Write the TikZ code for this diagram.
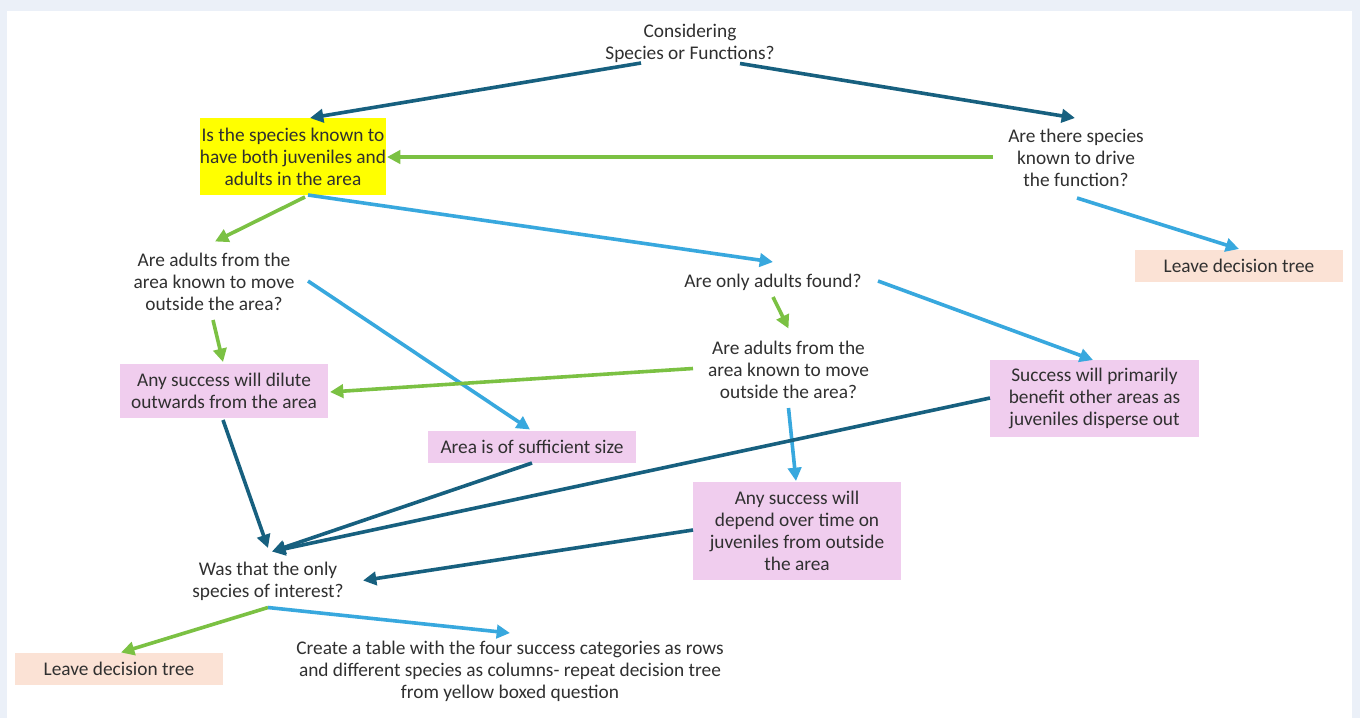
\documentclass[tikz,border=0pt]{standalone}
\usepackage{fontspec}
\setmainfont{Carlito}
\usetikzlibrary{calc,arrows.meta}
\definecolor{outerbg}{HTML}{EBF0F8}
\definecolor{txt}{HTML}{303030}
\definecolor{dkblue}{HTML}{17607F}
\definecolor{ltblue}{HTML}{38A8DE}
\definecolor{grn}{HTML}{7BC143}
\definecolor{yel}{HTML}{FFFF00}
\definecolor{pinkbox}{HTML}{F0CDEE}
\definecolor{peach}{HTML}{FBE2D5}
\tikzset{
  every node/.style={font=\fontsize{14.5}{16.5}\selectfont, text=txt, align=center, inner sep=0pt},
  q/.style={},
  boxy/.style={fill=yel},
  boxp/.style={fill=pinkbox},
  boxo/.style={fill=peach},
  conn/.style={line width=2.7pt, -{Triangle[length=10pt,width=10pt]}, shorten >=0pt},
  dk/.style={conn, draw=dkblue},
  lb/.style={conn, draw=ltblue},
  gr/.style={conn, draw=grn},
}
\begin{document}
\begin{tikzpicture}[x=0.75pt,y=-0.75pt]
\useasboundingbox (0,0) rectangle (1360,718);
\fill[outerbg] (0,0) rectangle (1360,718);
\fill[white] (7,11) rectangle (1352,718);

% nodes
\node[q] (cons) at (690,43.5) {Considering\\Species or Functions?};
\node[boxy, minimum width=135pt, minimum height=57.75pt] (yellow) at (293,156.5) {Is the species known to\\have both juveniles and\\adults in the area};
\node[q] (func) at (1076,158) {Are there species\\known to drive\\the function?};
\node[boxo, minimum width=156pt, minimum height=24pt] (leaveR) at (1239,266) {Leave decision tree};
\node[q] (adultsL) at (214,281.5) {Are adults from the\\area known to move\\outside the area?};
\node[q] (onlyAd) at (773,282.5) {Are only adults found?};
\node[q] (adultsM) at (788.5,369.5) {Are adults from the\\area known to move\\outside the area?};
\node[boxp, minimum width=156pt, minimum height=40pt] (dilute) at (224,391) {Any success will dilute\\outwards from the area};
\node[boxp, minimum width=156pt, minimum height=24pt] (suff) at (532,446.5) {Area is of sufficient size};
\node[boxp, minimum width=156.75pt, minimum height=57.75pt] (succ) at (1094.5,398.5) {Success will primarily\\benefit other areas as\\juveniles disperse out};
\node[boxp, minimum width=156pt, minimum height=73.5pt] (depend) at (797,531) {Any success will\\depend over time on\\juveniles from outside\\the area};
\node[q] (wasOnly) at (268,581.5) {Was that the only\\species of interest?};
\node[boxo, minimum width=156pt, minimum height=24pt] (leaveL) at (119,668.5) {Leave decision tree};
\node[q] (table) at (510,671.5) {Create a table with the four success categories as rows\\and different species  as columns- repeat decision tree\\from yellow boxed question};

% connectors
\draw[dk] ($(cons)+(-49,19.5)$) -- ($(yellow)+(17,-38.5)$);
\draw[dk] ($(cons)+(50,20)$) -- ($(func)+(-1,-40)$);
\draw[gr] ($(func)+(-83,-1)$) -- ($(yellow)+(94,0.5)$);
\draw[lb] ($(func)+(1,40)$) -- ($(leaveR)+(0,-17)$);
\draw[gr] ($(yellow)+(12,40.5)$) -- ($(adultsL)+(1,-40)$);
\draw[lb] ($(yellow)+(15,38.5)$) -- ($(onlyAd)+(0,-20.5)$);
\draw[gr] ($(adultsL)+(-1,38.5)$) -- ($(dilute)+(-1,-29)$);
\draw[lb] ($(adultsL)+(94,-0.5)$) -- ($(suff)+(-2,-17)$);
\draw[lb] ($(onlyAd)+(105,-1.5)$) -- ($(succ)+(-1.5,-38.5)$);
\draw[gr] ($(onlyAd)+(0,14.5)$) -- ($(adultsM)+(0,-41)$);
\draw[gr] ($(adultsM)+(-95.5,-1)$) -- ($(dilute)+(106,1)$);
\draw[lb] ($(adultsM)+(0,38.5)$) -- ($(depend)+(-1,-50)$);
\draw[dk] ($(dilute)+(-1,29)$) -- ($(wasOnly)+(0,-33.5)$);
\draw[dk] ($(suff)+(0,16.5)$) -- ($(wasOnly)+(4,-30)$);
\draw[dk] ($(succ)+(-104.5,-0.5)$) -- ($(wasOnly)+(4,-30)$);
\draw[dk] ($(depend)+(-104,-1)$) -- ($(wasOnly)+(95,-1)$);
\draw[gr] ($(wasOnly)+(0,26)$) -- ($(leaveL)+(2,-16)$);
\draw[lb] ($(wasOnly)+(0,26)$) -- ($(table)+(0,-38.5)$);
\end{tikzpicture}
\end{document}
